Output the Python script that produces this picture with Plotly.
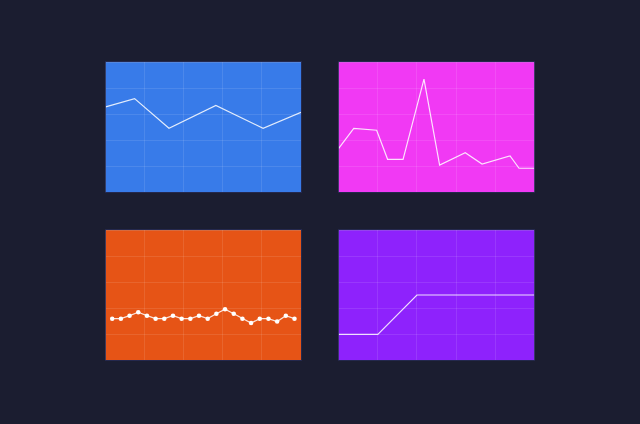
import plotly.graph_objects as go

# Panel 1 (blue)
blue_x = [0, 0.148, 0.324, 0.564, 0.806, 1.0]
blue_y = [65.6, 72.0, 49.1, 66.8, 49.1, 61.4]

# Panel 2 (magenta)
mag_x = [0, 0.077, 0.194, 0.25, 0.329, 0.436, 0.516, 0.647, 0.733, 0.876, 0.922, 1.0]
mag_y = [33.7, 49.1, 47.6, 25.2, 25.2, 87.1, 20.8, 30.3, 21.6, 27.8, 18.3, 18.3]

# Panel 3 (orange)
org_x = list(range(22))
org_y = [31.9, 31.9, 34.2, 36.8, 34.2, 31.9, 31.9, 34.2, 31.9, 31.9, 34.2, 31.9,
         35.7, 39.1, 35.7, 31.9, 28.5, 31.9, 31.9, 29.6, 34.2, 31.9]

# Panel 4 (purple)
pur_x = [0, 1, 2, 3, 4, 5]
pur_y = [19.8, 19.8, 50.1, 50.1, 50.1, 50.1]

BG = "#1b1d30"
GRID = "rgba(255,255,255,0.10)"
LINE = "rgba(255,255,255,0.85)"

fig = go.Figure()
fig.add_trace(go.Scatter(x=blue_x, y=blue_y, mode="lines", line=dict(color=LINE, width=1.2),
                         xaxis="x", yaxis="y", showlegend=False))
fig.add_trace(go.Scatter(x=mag_x, y=mag_y, mode="lines", line=dict(color=LINE, width=1.2),
                         xaxis="x2", yaxis="y2", showlegend=False))
fig.add_trace(go.Scatter(x=org_x, y=org_y, mode="lines+markers", line=dict(color=LINE, width=1.2),
                         marker=dict(color="white", size=4.5),
                         xaxis="x3", yaxis="y3", showlegend=False))
fig.add_trace(go.Scatter(x=pur_x, y=pur_y, mode="lines", line=dict(color=LINE, width=1.2),
                         xaxis="x4", yaxis="y4", showlegend=False))

xd_l = [105.7 / 640, 301 / 640]
xd_r = [338.7 / 640, 534.3 / 640]
yd_t = [1 - 192 / 424, 1 - 62.3 / 424]
yd_b = [1 - 360 / 424, 1 - 230.3 / 424]

def ax(domain, rng, dtick, tick0, anchor):
    return dict(domain=domain, range=rng, dtick=dtick, tick0=tick0, anchor=anchor,
                showgrid=True, gridcolor=GRID, gridwidth=1, zeroline=False,
                showticklabels=False, ticks="", showline=True, mirror=True,
                linecolor="rgba(40,45,90,0.7)", linewidth=1, fixedrange=True)

fig.update_layout(
    width=640, height=424,
    paper_bgcolor=BG,
    margin=dict(l=0, r=0, t=0, b=0),
    xaxis=ax(xd_l, [0, 1], 0.2, 0, "y"),
    yaxis=ax(yd_t, [0, 100], 20, 0, "x"),
    xaxis2=ax(xd_r, [0, 1], 0.2, 0, "y2"),
    yaxis2=ax(yd_t, [0, 100], 20, 0, "x2"),
    xaxis3=ax(xd_l, [-0.75, 21.75], 4.5, -0.75, "y3"),
    yaxis3=ax(yd_b, [0, 100], 20, 0, "x3"),
    xaxis4=ax(xd_r, [0, 5], 1, 0, "y4"),
    yaxis4=ax(yd_b, [0, 100], 20, 0, "x4"),
    shapes=[
        dict(type="rect", xref="x domain", yref="y domain", x0=0, x1=1, y0=0, y1=1,
             fillcolor="#387be9", line_width=0, layer="below"),
        dict(type="rect", xref="x2 domain", yref="y2 domain", x0=0, x1=1, y0=0, y1=1,
             fillcolor="#f139f4", line_width=0, layer="below"),
        dict(type="rect", xref="x3 domain", yref="y3 domain", x0=0, x1=1, y0=0, y1=1,
             fillcolor="#e65416", line_width=0, layer="below"),
        dict(type="rect", xref="x4 domain", yref="y4 domain", x0=0, x1=1, y0=0, y1=1,
             fillcolor="#8e22fc", line_width=0, layer="below"),
    ],
)

fig.write_html("out.html", config={"displayModeBar": False},
               post_script="document.body.style.margin='0';document.body.style.background='#1b1d30';")
